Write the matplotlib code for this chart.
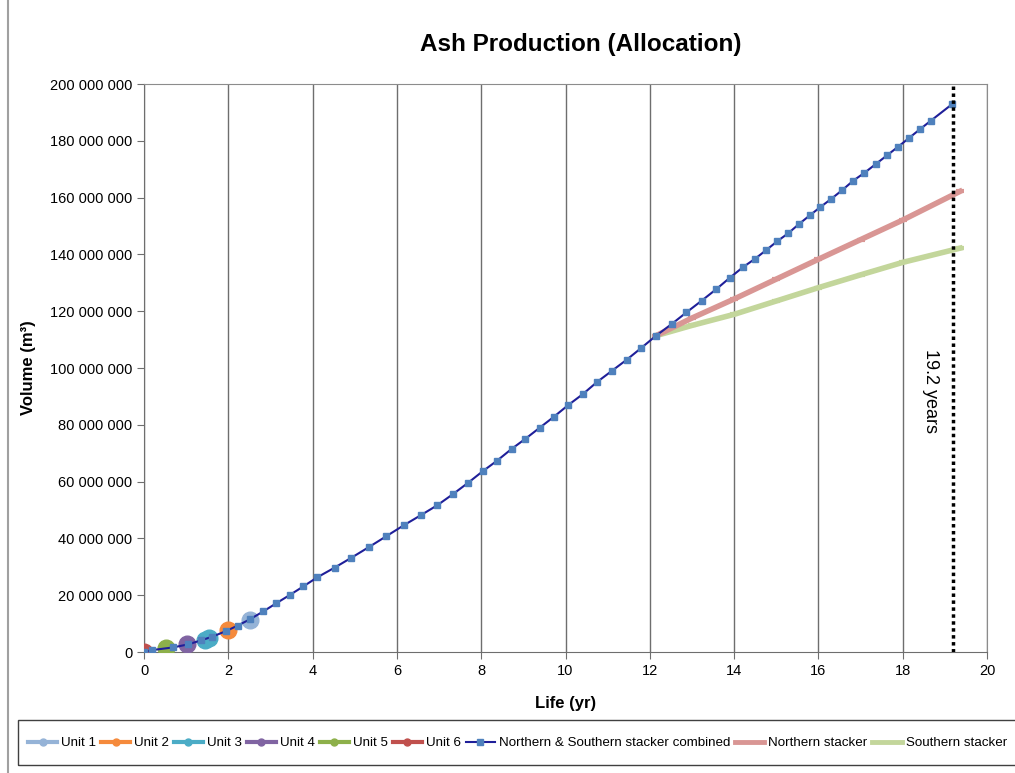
import numpy as np
import matplotlib.pyplot as plt
from matplotlib.lines import Line2D
from matplotlib.patches import Rectangle
from matplotlib.ticker import FuncFormatter

plt.rcParams['font.family'] = ['Liberation Sans', 'DejaVu Sans']

# Combined stacker volume (m3, millions) against life (yr)
life = [0, 0.2, 0.68, 1.05, 1.35, 1.62, 1.95, 2.22, 2.51, 2.83, 3.13, 3.46, 3.78, 4.11,
        4.52, 4.92, 5.33, 5.74, 6.16, 6.57, 6.96, 7.33, 7.69, 8.04, 8.37, 8.72, 9.05,
        9.39, 9.73, 10.06, 10.41, 10.75, 11.1, 11.45, 11.8, 12.15, 12.52, 12.87, 13.23,
        13.58, 13.9, 14.21, 14.5, 14.76, 15.02, 15.28, 15.54, 15.8, 16.04, 16.3, 16.57,
        16.83, 17.09, 17.36, 17.63, 17.89, 18.16, 18.42, 18.67, 19.18]
combined = [0, 0.7, 1.6, 2.7, 4.1, 5.4, 7.4, 9.3, 11.5, 14.3, 17.1, 20.1, 23.1, 26.3,
            29.7, 33.2, 36.9, 40.7, 44.6, 48.2, 51.7, 55.6, 59.6, 63.7, 67.3, 71.5, 75.1,
            79.0, 82.9, 86.9, 90.8, 95.1, 99.0, 102.9, 107.1, 111.4, 115.5, 119.6, 123.7,
            127.8, 131.8, 135.5, 138.5, 141.5, 144.6, 147.4, 150.7, 153.8, 156.6, 159.5,
            162.7, 166.0, 168.7, 171.8, 174.9, 177.9, 181.1, 184.2, 187.1, 193.0]

# Stacker split after ~12 years
split_life = [12.15, 13.0, 14.0, 15.0, 16.0, 17.0, 18.0, 19.36]
northern = [111.4, 117.6, 124.3, 131.3, 138.3, 145.2, 152.1, 162.2]
southern = [111.4, 115.0, 118.9, 123.6, 128.3, 132.8, 137.2, 142.2]

# Unit commissioning points
unit_names = ['Unit 1', 'Unit 2', 'Unit 3', 'Unit 4', 'Unit 5', 'Unit 6']
unit_life = [[2.51], [2.0], [1.45, 1.55], [1.03], [0.52], [0.0]]
unit_vol = [[11.3], [7.7], [4.3, 4.8], [2.7], [1.3], [0.0]]
unit_colors = ['#95B3D7', '#F58A3C', '#4BACC6', '#8064A2', '#8DB04A', '#C0504D']

life_years = 19.2

fig = plt.figure(figsize=(10.15, 7.73), dpi=100)
ax = fig.add_axes([0.1419, 0.1565, 0.8305, 0.7348])

M = 1e6
for name, xs, ys, c in zip(unit_names, unit_life, unit_vol, unit_colors):
    ax.plot(xs, np.array(ys) * M, color=c, lw=3, marker='o', ms=12, zorder=3)

ax.plot(split_life, np.array(southern) * M, color='#C3D69B', lw=4, zorder=4,
        marker='_', ms=6, mew=3)
ax.plot(split_life, np.array(northern) * M, color='#D99694', lw=4, zorder=4,
        marker='_', ms=6, mew=3)
ax.plot(life, np.array(combined) * M, color='#1F1F99', lw=1.5, marker='s', ms=4.5,
        mfc='#4F81BD', mec='#4F81BD', zorder=5)

ax.axvline(life_years, color='black', ls=(0, (1, 1)), lw=2.5, zorder=6)
ax.text(18.65, 92 * M, '19.2 years', rotation=270, ha='center', va='center',
        fontsize=13)

ax.set_xlim(0, 20)
ax.set_ylim(0, 200 * M)
ax.set_xticks(np.arange(0, 21, 2))
ax.set_yticks(np.arange(0, 200 * M + 1, 20 * M))
ax.yaxis.set_major_formatter(FuncFormatter(lambda v, p: f'{int(round(v)):,}'.replace(',', ' ')))
ax.xaxis.grid(True, color='#6E6E6E', lw=1)
ax.set_axisbelow(True)
for s in ax.spines.values():
    s.set_color('#8C8C8C')
ax.spines['left'].set_color('#6E6E6E')
ax.spines['bottom'].set_color('#6E6E6E')
ax.tick_params(direction='out', length=5, color='#6E6E6E', labelsize=10.5)

ax.set_title('Ash Production (Allocation)', fontsize=17.5, fontweight='bold', pad=24,
             x=0.518)
ax.set_xlabel('Life (yr)', fontsize=12, fontweight='bold', labelpad=13)
ax.set_ylabel('Volume (m³)', fontsize=12, fontweight='bold', labelpad=10)

handles = [Line2D([], [], color=c, lw=3, marker='o', ms=5) for c in unit_colors]
handles.append(Line2D([], [], color='#1F1F99', lw=1.5, marker='s', ms=4,
                      mfc='#4F81BD', mec='#4F81BD'))
handles.append(Line2D([], [], color='#D99694', lw=3.5))
handles.append(Line2D([], [], color='#C3D69B', lw=3.5))
labels = unit_names + ['Northern & Southern stacker combined', 'Northern stacker',
                       'Southern stacker']

# legend frame drawn separately so it can run off the right edge like the original
fig.add_artist(Rectangle((18 / 1015, 8 / 773), 1.0, 45 / 773, transform=fig.transFigure,
                         fill=False, edgecolor='#404040', lw=1))
leg = fig.legend(handles, labels, loc='center left', bbox_to_anchor=(0.017, 0.0388),
                 ncol=9, fontsize=9.6, frameon=False, handlelength=2.2,
                 handletextpad=0.3, columnspacing=0.35, borderpad=0.3)

fig.add_artist(Line2D([0.008, 0.008], [0, 1], color='#A0A0A0', lw=1.5,
                      transform=fig.transFigure))

fig.savefig('out.png', dpi=100)
